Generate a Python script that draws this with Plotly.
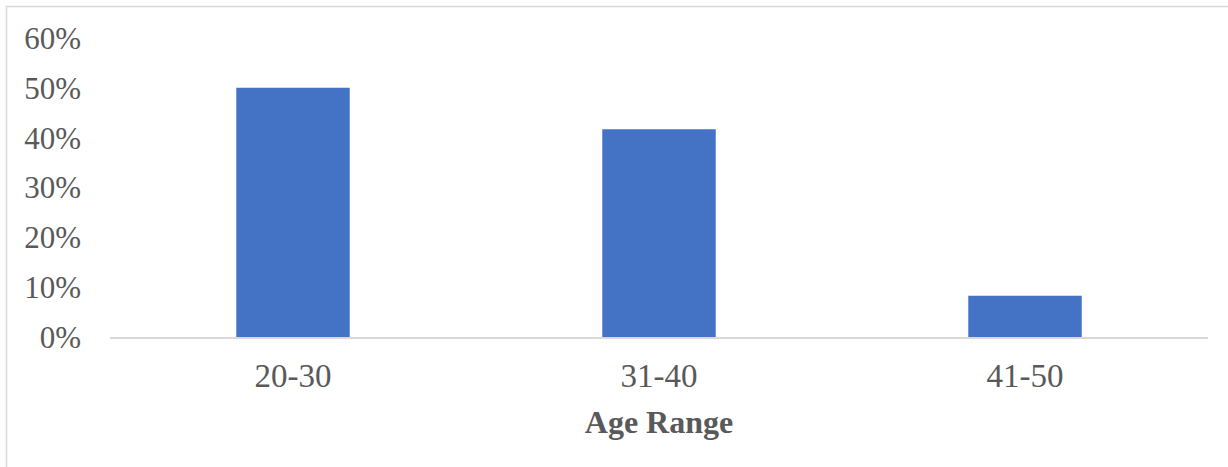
import plotly.graph_objects as go

age_ranges = ["20-30", "31-40", "41-50"]
shares = [0.50, 0.417, 0.083]
y_ticks = [0, 0.1, 0.2, 0.3, 0.4, 0.5, 0.6]
y_tick_labels = ["0%", "10%", "20%", "30%", "40%", "50%", "60%"]

W, H = 1228, 467
L, R, T, B = 110, 20, 38, 129.5
pw, ph = W - L - R, H - T - B

fig = go.Figure(go.Bar(x=age_ranges, y=shares, marker=dict(color="#4472C4", line=dict(width=0))))

fig.update_layout(
    width=W, height=H,
    margin=dict(l=L, r=R, t=T, b=B),
    paper_bgcolor="white", plot_bgcolor="white",
    bargap=0.69,
    showlegend=False,
    font=dict(family="Liberation Serif", color="#595959", size=31),
    xaxis=dict(
        showline=True, linecolor="#d9d9d9", linewidth=2,
        showgrid=False, ticks="", tickfont=dict(size=33), ticklabelstandoff=8,
        title=dict(text="<b>Age Range</b>", font=dict(size=32, color="#595959"), standoff=18),
    ),
    yaxis=dict(
        range=[0, 0.6], tickvals=y_ticks, ticktext=y_tick_labels,
        showgrid=False, zeroline=False, showline=False, ticks="",
        tickfont=dict(size=31), ticklabelstandoff=28,
    ),
    shapes=[dict(
        type="rect", xref="paper", yref="paper",
        x0=(6.5 - L) / pw, x1=1.2, y0=-0.8, y1=(H - B - 6.5) / ph,
        line=dict(color="#d9d9d9", width=1.5), fillcolor="rgba(0,0,0,0)", layer="below",
    )],
)

fig.write_html("out.html")
